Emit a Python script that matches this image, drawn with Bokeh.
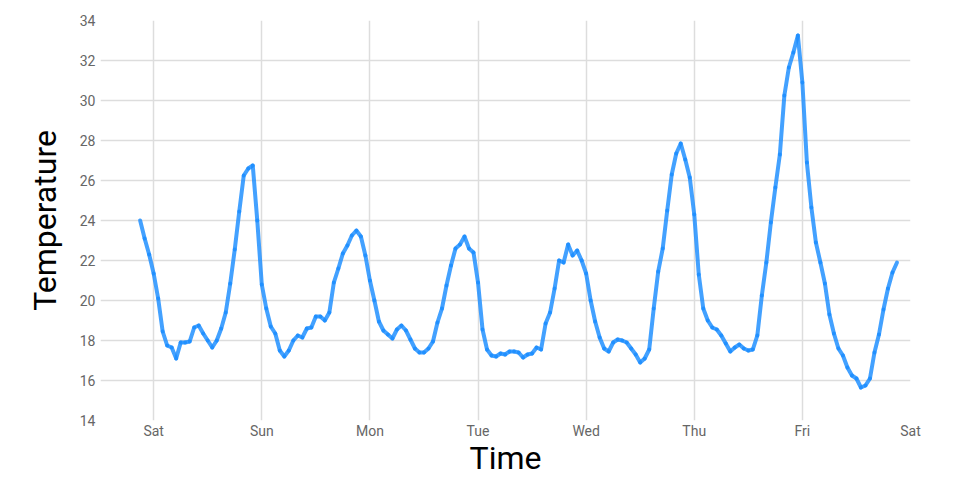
import pandas as pd
from bokeh.plotting import figure
from bokeh.models import Range1d, FixedTicker, DatetimeTickFormatter, ColumnDataSource
from bokeh.embed import file_html
from bokeh.resources import INLINE

# Hourly temperature readings, starting Friday 21:00 (3 h before the first Saturday tick)
start_time = "2022-07-01 21:00"
temperature = [
    24.0, 23.1, 22.3,
    21.35, 20.1, 18.45, 17.75, 17.65, 17.1, 17.9, 17.9, 17.95, 18.65, 18.75, 18.35,
    18.0, 17.65, 18.0, 18.6, 19.4, 20.85, 22.55, 24.45, 26.25, 26.6, 26.75, 24.0,
    20.8, 19.6, 18.7, 18.35, 17.5, 17.2, 17.5, 18.0, 18.25, 18.15, 18.6, 18.65,
    19.2, 19.2, 19.0, 19.4, 20.9, 21.6, 22.35, 22.75, 23.25, 23.5, 23.2, 22.25,
    21.0, 20.0, 18.95, 18.5, 18.3, 18.1, 18.55, 18.75, 18.5, 18.05, 17.6, 17.4,
    17.4, 17.6, 17.95, 18.9, 19.6, 20.75, 21.75, 22.6, 22.8, 23.2, 22.6, 22.4,
    20.9, 18.55, 17.55, 17.25, 17.2, 17.35, 17.3, 17.45, 17.45, 17.4, 17.15, 17.3,
    17.35, 17.65, 17.55, 18.85, 19.4, 20.6, 22.0, 21.9, 22.8, 22.25, 22.5, 22.0,
    21.35, 20.0, 18.95, 18.15, 17.6, 17.45, 17.9, 18.05, 18.0, 17.9, 17.6, 17.3,
    16.9, 17.1, 17.55, 19.6, 21.45, 22.6, 24.5, 26.3, 27.35, 27.85, 27.05, 26.15,
    24.3, 21.3, 19.6, 19.0, 18.65, 18.55, 18.25, 17.85, 17.45, 17.65, 17.8, 17.6,
    17.5, 17.55, 18.25, 20.25, 21.9, 23.9, 25.65, 27.3, 30.25, 31.65, 32.4, 33.25,
    30.9, 26.9, 24.65, 22.9, 21.9, 20.85, 19.3, 18.35, 17.6, 17.25, 16.65, 16.25,
    16.1, 15.65, 15.75, 16.1, 17.4, 18.3, 19.55, 20.6, 21.4, 21.9,
]
day_ticks = pd.date_range("2022-07-02", periods=8, freq="D")  # Sat .. Sat
y_ticks = [14, 16, 18, 20, 22, 24, 26, 28, 30, 32, 34]

times = pd.date_range(start_time, periods=len(temperature), freq="h")

p = figure(
    width=944, height=484,
    frame_width=810, frame_height=400,
    min_border_left=100, min_border_right=34, min_border_top=20, min_border_bottom=64,
    x_axis_type="datetime",
    output_backend="svg", toolbar_location=None,
)
p.x_range = Range1d(day_ticks[0] - pd.Timedelta(hours=11.8), day_ticks[-1])
p.y_range = Range1d(y_ticks[0], y_ticks[-1])

src = ColumnDataSource(dict(
    x0=times[:-1], y0=temperature[:-1], x1=times[1:], y1=temperature[1:],
))
p.segment("x0", "y0", "x1", "y1", source=src, line_color="#1a8cff",
          line_alpha=0.82, line_width=4, line_cap="round")

p.outline_line_color = None
p.background_fill_color = "white"
p.border_fill_color = "white"

p.xaxis.ticker = FixedTicker(ticks=[t.timestamp() * 1000 for t in day_ticks])
p.xaxis.formatter = DatetimeTickFormatter(
    days="%a", months="%a", hours="%a", years="%a", minutes="%a",
    hourmin="%a", seconds="%a", minsec="%a", milliseconds="%a", microseconds="%a")
p.yaxis.ticker = FixedTicker(ticks=y_ticks)

for ax in (p.xaxis[0], p.yaxis[0]):
    ax.axis_line_color = None
    ax.major_tick_line_color = None
    ax.minor_tick_line_color = None
    ax.major_tick_in = 0
    ax.major_tick_out = 0
    ax.major_label_standoff = 5
    ax.major_label_text_font = "Roboto"
    ax.major_label_text_font_size = "14px"
    ax.major_label_text_color = "#666666"
    ax.axis_label_text_font = "Roboto"
    ax.axis_label_text_font_size = "32px"
    ax.axis_label_text_font_style = "normal"
    ax.axis_label_text_color = "#000000"

p.xaxis.axis_label = "Time"
p.yaxis.axis_label = "Temperature"
p.xaxis.major_label_standoff = 2
p.xaxis.axis_label_standoff = -3
p.yaxis.axis_label_standoff = 13

p.xgrid.grid_line_color = "#dddddd"
p.ygrid.grid_line_color = "#dddddd"
p.xgrid.grid_line_width = 1.5
p.ygrid.grid_line_width = 1.5

open("out.html", "w").write(file_html(p, INLINE))
